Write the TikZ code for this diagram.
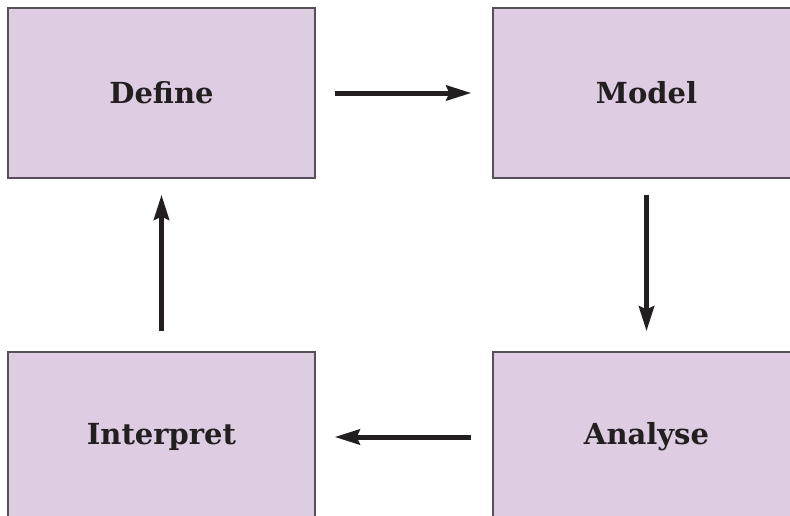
\documentclass[tikz,border=0pt]{standalone}
\usepackage{fontspec}
\setmainfont{DejaVu Serif}
\usepackage{xcolor}
\usetikzlibrary{arrows.meta}

\definecolor{boxfill}{RGB}{221,204,226}
\definecolor{boxline}{RGB}{85,80,88}
\definecolor{ink}{RGB}{35,31,32}

\begin{document}
\begin{tikzpicture}[x=1pt,y=-1pt,
	stagebox/.style={draw=boxline,line width=1.3pt,fill=boxfill,minimum width=307pt,minimum height=170pt,inner sep=0pt,font=\fontsize{29}{32}\selectfont\bfseries,text=ink},
	flow/.style={draw=ink,line width=5pt,-{Stealth[length=25pt,width=15pt,inset=3pt]}}]
	\useasboundingbox (0,0) rectangle (790,515);
	\clip (0,0) rectangle (790,515);

	\node[stagebox] (define) at (161.5,93) {Define};
	\node[stagebox] (model) at (646.5,93) {Model};
	\node[stagebox] (analyse) at (646.5,437) {Analyse};
	\node[stagebox] (interpret) at (161.5,437) {Interpret};

	\draw[flow,shorten <=19pt,shorten >=21pt] (define) -- (model);
	\draw[flow,shorten <=16pt,shorten >=20pt] (model) -- (analyse);
	\draw[flow,shorten <=21pt,shorten >=19pt] (analyse) -- (interpret);
	\draw[flow,shorten <=20pt,shorten >=16pt] (interpret) -- (define);
\end{tikzpicture}
\end{document}
